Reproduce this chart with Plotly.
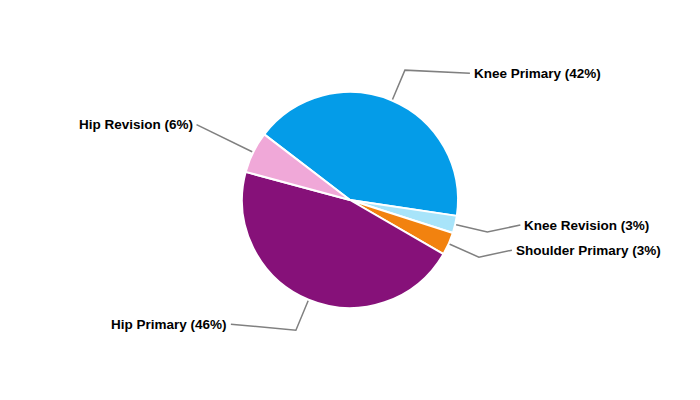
import math
import plotly.graph_objects as go

categories = ["Knee Primary", "Knee Revision", "Shoulder Primary", "Hip Primary", "Hip Revision"]
shares = [42.0, 2.6, 3.4, 45.9, 6.2]
colors = ["#049CE8", "#A8E4FA", "#F2820F", "#861179", "#F0A8D8"]

# layout constants (pixels)
W, H = 700, 400
CX, CY, R = 350, 200, 108
ROT = 307.4
ELBOW_R = 141
label_dx = [65, 33, 33, -65, -27]   # horizontal run of leader from elbow to label
label_dy = [3, -7, -7, -6, -13]     # vertical shift of label relative to elbow

total = sum(shares)
fig = go.Figure()
fig.add_trace(go.Pie(
    labels=categories, values=shares, sort=False, direction="clockwise",
    rotation=ROT, marker=dict(colors=colors, line=dict(color="white", width=2)),
    textinfo="none", hoverinfo="label+percent", showlegend=False,
    domain=dict(x=[0, 1], y=[(H - CY - R) / H, (H - CY + R) / H]),
))

start = ROT
annotations = []
for i, (cat, v) in enumerate(zip(categories, shares)):
    span = v / total * 360
    mid = math.radians(start + span / 2)
    start += span
    ex, ey = CX + R * math.sin(mid), CY - R * math.cos(mid)
    bx, by = CX + ELBOW_R * math.sin(mid), CY - ELBOW_R * math.cos(mid)
    lx, ly = bx + label_dx[i], by + label_dy[i]
    fig.add_trace(go.Scatter(x=[ex, bx, lx], y=[ey, by, ly], mode="lines",
                             line=dict(color="#808080", width=1.5),
                             hoverinfo="skip", showlegend=False))
    right = label_dx[i] > 0
    annotations.append(dict(
        x=lx + (2 if right else -2), y=ly, xref="x", yref="y",
        text=f"{cat} ({round(v / total * 100)}%)", showarrow=False,
        xanchor="left" if right else "right", yanchor="middle",
        font=dict(family="Liberation Sans, Arial, sans-serif", size=13.5, color="#000000", weight="bold"),
    ))

fig.update_layout(
    width=W, height=H, margin=dict(l=0, r=0, t=0, b=0),
    paper_bgcolor="white", plot_bgcolor="rgba(0,0,0,0)",
    xaxis=dict(range=[0, W], visible=False, fixedrange=True),
    yaxis=dict(range=[H, 0], visible=False, fixedrange=True),
    annotations=annotations,
)
fig.write_html("out.html", config={"displayModeBar": False},
               post_script="document.body.style.margin='0';document.body.style.overflow='hidden';")
